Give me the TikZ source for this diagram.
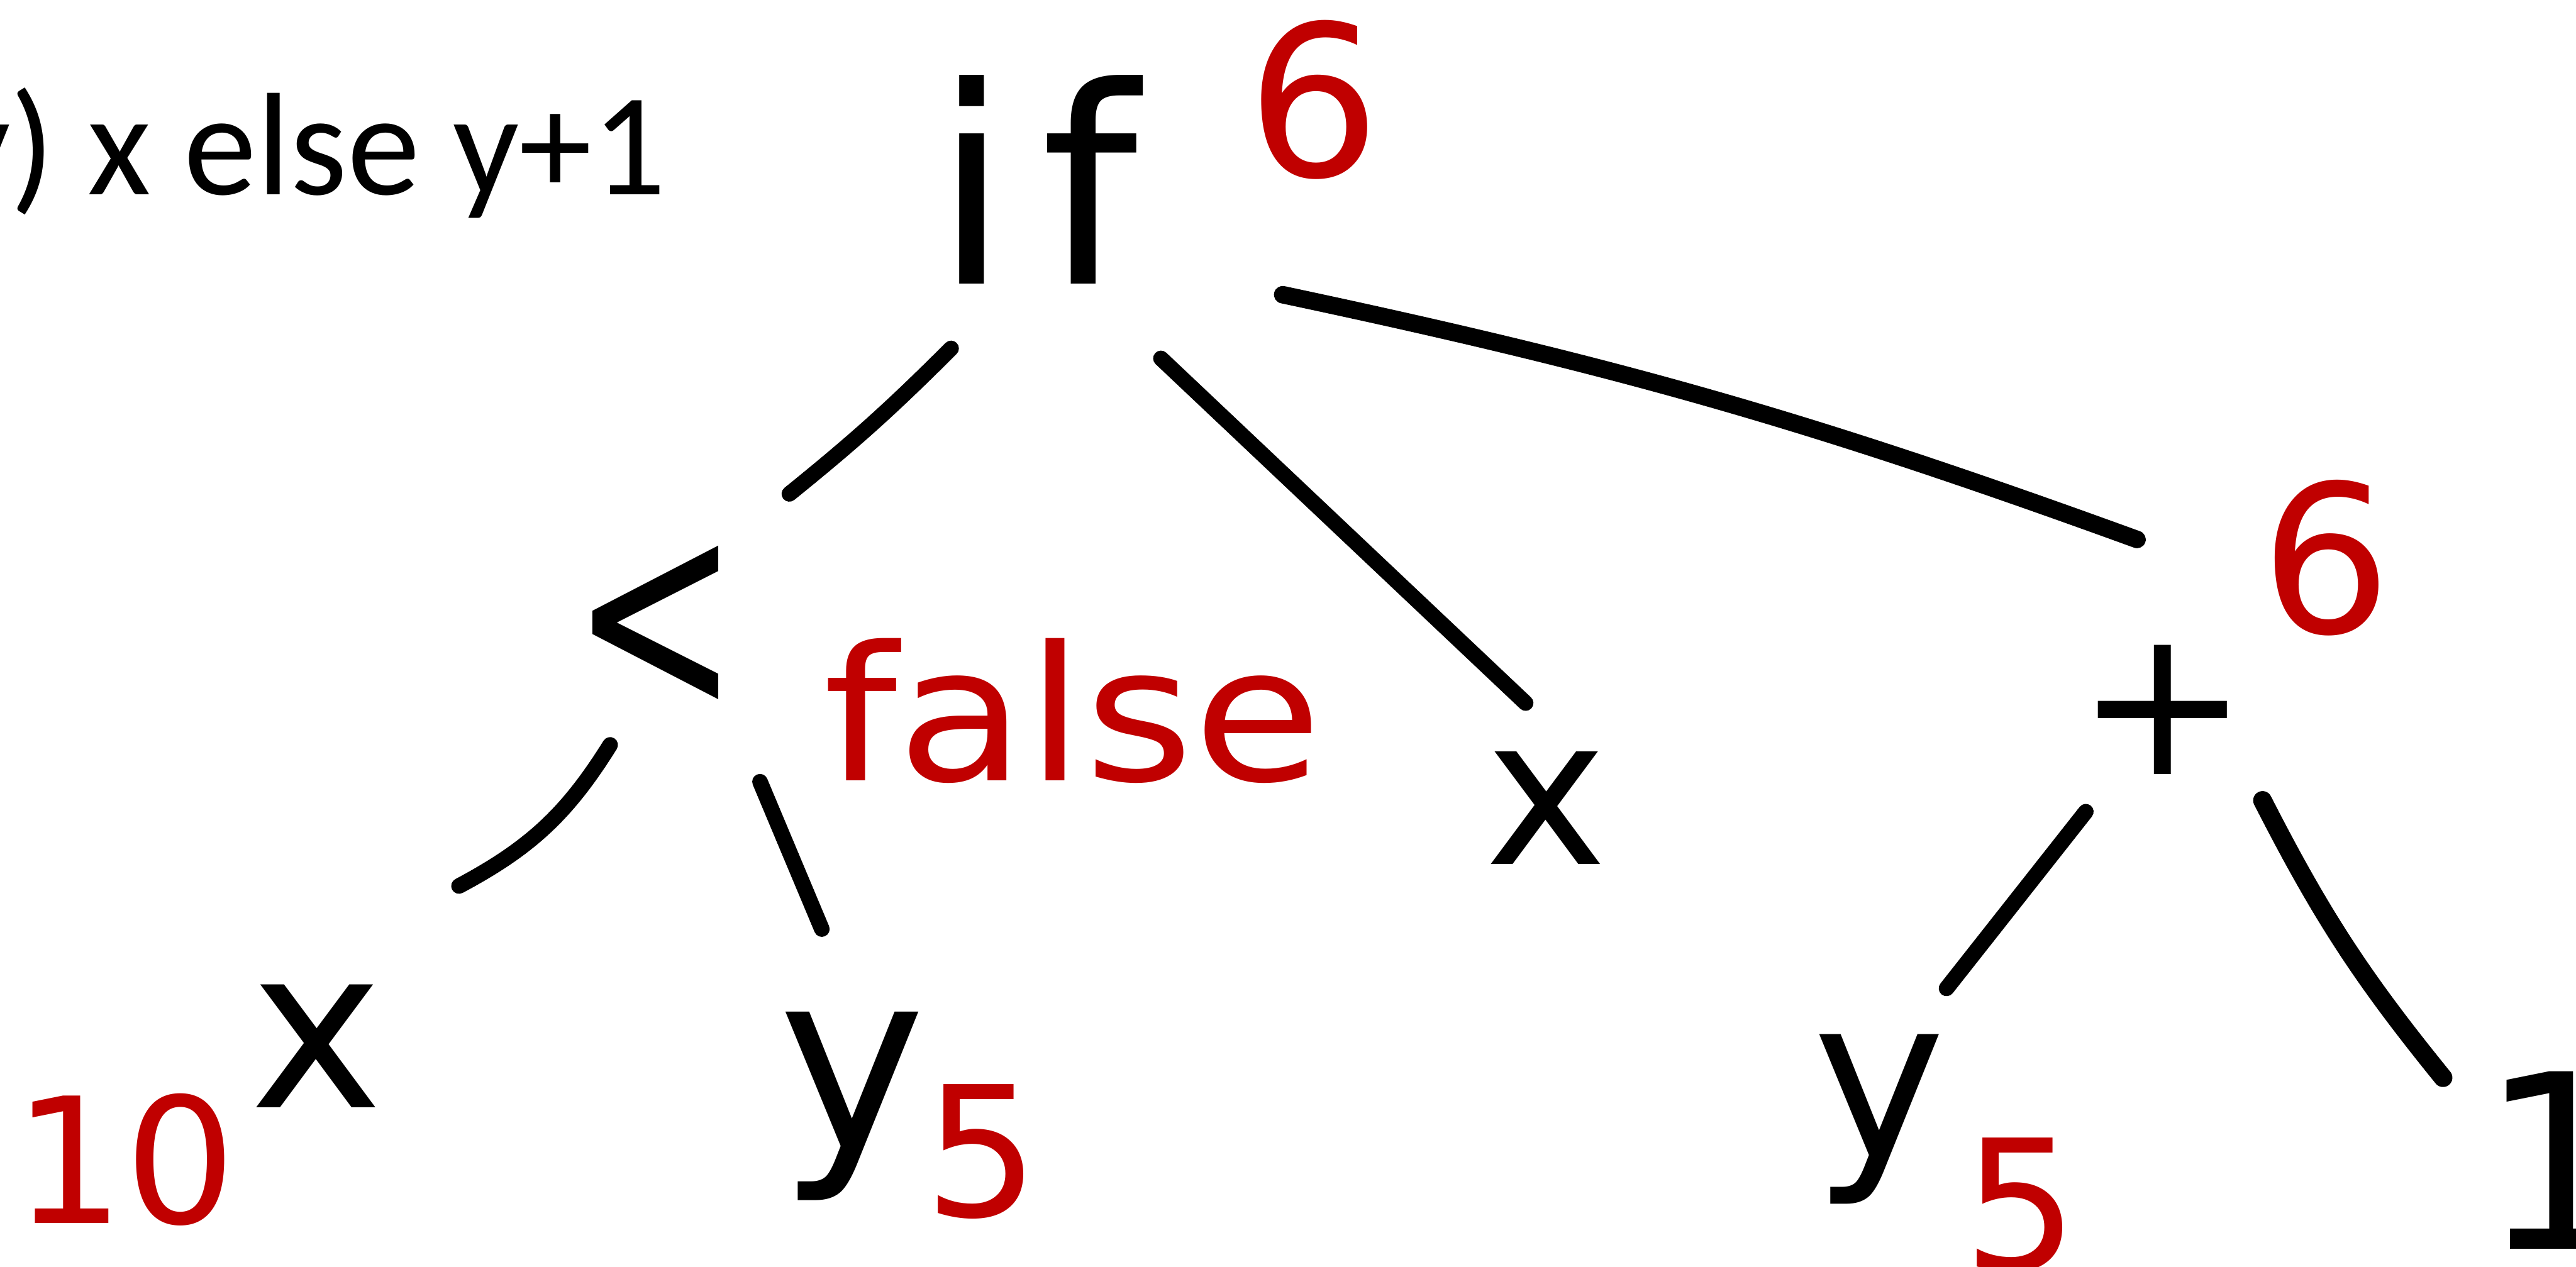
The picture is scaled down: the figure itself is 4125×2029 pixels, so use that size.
\documentclass[tikz,border=0pt]{standalone}
\usepackage{fontspec}
\setmainfont{Carlito}
\newfontfamily\handfont{DejaVu Sans}
\usepackage{graphicx}
\definecolor{redink}{HTML}{C00000}

\begin{document}
\begin{tikzpicture}[x=0.1mm,y=-0.1mm,
	hand/.style={font=\handfont\fontsize{#1}{#1}\selectfont,inner sep=0pt},
	note/.style={hand=#1,text=redink},
	wire/.style={line width=2.5mm,line cap=round}]
	\useasboundingbox (0,0) rectangle (4125,2029);
	\fill[white] (0,0) rectangle (4125,2029);

	% source line, cut at the left edge
	\node[font=\fontsize{23.4mm}{28mm}\selectfont,inner sep=0pt,anchor=base west] (code) at (-90,312) {y) x else y+1};

	% tree
	\node[hand=44mm,anchor=base west] (if) at (1494,455) {i\kern5mm f};
	\node[hand=46mm] (lt) at (1050,1008) {\scalebox{0.7}[1]{<}};
	\node[hand=36mm] (xa) at (507,1675) {x};
	\node[hand=40mm] (ya) at (1365,1772) {y};
	\node[hand=33mm] (xb) at (2476,1294) {x};
	\node[hand=33mm] (plus) at (3463,1137) {+};
	\node[hand=36mm] (yb) at (3009,1792) {y};
	\node[hand=39mm] (one) at (4095,1858) {1};

	% values in red
	\node[note=33.7mm] (vif) at (2104,160) {6};
	\node[note=30mm,anchor=base west] (vlt) at (1318,1250) {\scalebox{1.12}[1]{false}};
	\node[note=28mm] (vxa) at (200,1857) {10};
	\node[note=29mm] (vya) at (1572,1845) {5};
	\node[note=33mm] (vplus) at (3725,893) {6};
	\node[note=29mm] (vyb) at (3236,1930) {5};

	% ends of the strokes
	\coordinate (if-l) at (1523,558);
	\coordinate (lt-t) at (1264,791);
	\coordinate (if-m) at (1859,574);
	\coordinate (xb-t) at (2443,1126);
	\coordinate (if-r) at (2054,472);
	\coordinate (plus-t) at (3422,864);
	\coordinate (lt-l) at (977,1193);
	\coordinate (xa-t) at (735,1419);
	\coordinate (lt-r) at (1217,1252);
	\coordinate (ya-t) at (1316,1488);
	\coordinate (plus-l) at (3340,1300);
	\coordinate (yb-t) at (3117,1583);
	\coordinate (plus-r) at (3623,1282);
	\coordinate (one-t) at (3912,1726);

	\draw [wire] (if-l) to[bend left=3] (lt-t);
	\draw [wire] (if-m) -- (xb-t);
	\draw [wire,line width=2.8mm] (if-r) to[bend left=4] (plus-t);
	\draw [wire] (lt-l) to[bend left=15] (xa-t);
	\draw [wire] (lt-r) -- (ya-t);
	\draw [wire] (plus-l) -- (yb-t);
	\draw [wire,line width=3mm] (plus-r) to[bend right=6] (one-t);
\end{tikzpicture}
\end{document}
